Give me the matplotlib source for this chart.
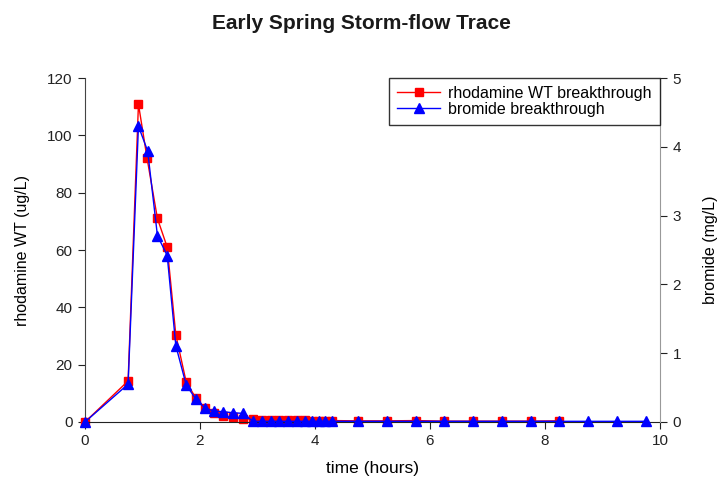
import matplotlib
matplotlib.use("Agg")
import matplotlib.pyplot as plt

plt.rcParams['font.family'] = ['Liberation Sans', 'DejaVu Sans']

# rhodamine WT (ug/L) vs time (hours)
rwt_time = [0.0, 0.75, 0.93, 1.08, 1.26, 1.43, 1.58, 1.76, 1.93, 2.09, 2.24, 2.40,
            2.57, 2.75, 2.92, 3.08, 3.23, 3.38, 3.53, 3.68, 3.83, 3.95, 4.07, 4.18,
            4.29, 4.75, 5.25, 5.75, 6.25, 6.75, 7.25, 7.75, 8.25]
rwt_conc = [0.0, 14.3, 110.9, 92.0, 71.0, 61.0, 30.4, 14.0, 8.3, 4.8, 3.1, 2.2,
            1.6, 1.2, 0.9, 0.8, 0.8, 0.7, 0.7, 0.6, 0.6, 0.5, 0.5, 0.5,
            0.5, 0.4, 0.4, 0.5, 0.3, 0.3, 0.3, 0.3, 0.4]

# bromide (mg/L) vs time (hours)
br_time = [0.0, 0.75, 0.93, 1.09, 1.26, 1.43, 1.58, 1.76, 1.93, 2.09, 2.24, 2.40,
           2.57, 2.75, 2.92, 3.08, 3.23, 3.38, 3.53, 3.68, 3.83, 3.95, 4.07, 4.18,
           4.29, 4.75, 5.25, 5.75, 6.25, 6.75, 7.25, 7.75, 8.25, 8.75, 9.25, 9.75]
br_conc = [0.0, 0.55, 4.30, 3.94, 2.71, 2.42, 1.11, 0.54, 0.33, 0.20, 0.16, 0.15,
           0.135, 0.125, 0.01, 0.01, 0.01, 0.01, 0.01, 0.01, 0.01, 0.01, 0.01, 0.01,
           0.01, 0.01, 0.01, 0.01, 0.01, 0.01, 0.01, 0.01, 0.01, 0.01, 0.01, 0.01]

fig = plt.figure(figsize=(7.22, 4.83), dpi=100)
ax = fig.add_axes([0.1177, 0.1263, 0.7963, 0.7122])
ax2 = ax.twinx()

l1, = ax.plot(rwt_time, rwt_conc, color='#ff0000', marker='s', markersize=6,
              linewidth=1.0, label='rhodamine WT breakthrough', clip_on=False)
l2, = ax2.plot(br_time, br_conc, color='#0000ff', marker='^', markersize=7,
               linewidth=1.0, label='bromide breakthrough', clip_on=False)

ax.set_xlim(0, 10)
ax.set_ylim(0, 120)
ax2.set_ylim(0, 5)
ax.set_xticks(range(0, 11, 2))
ax.set_yticks(range(0, 121, 20))
ax2.set_yticks(range(0, 6))

for a in (ax, ax2):
    a.spines['top'].set_visible(False)
ax.spines['right'].set_visible(False)
ax2.spines['left'].set_visible(False)
ax2.spines['bottom'].set_visible(False)
ax.spines['left'].set_color('#444444')
ax.spines['bottom'].set_color('#222222')
ax2.spines['right'].set_color('#999999')

ax.tick_params(direction='out', length=5, labelsize=11, pad=4, colors='#222222')
ax2.tick_params(direction='out', length=5, labelsize=11, pad=4, colors='#222222')

ax.set_xlabel('time (hours)', fontsize=12.5, labelpad=9)
ax.set_ylabel('rhodamine WT (ug/L)', fontsize=11.5, labelpad=12)
ax2.set_ylabel('bromide (mg/L)', fontsize=11.5, labelpad=16)
fig.text(0.5, 0.97, 'Early Spring Storm-flow Trace', fontsize=15, fontweight='bold',
         ha='center', va='top', color='#1a1a1a')

leg = ax2.legend(handles=[l1, l2], loc='upper right', bbox_to_anchor=(1.0, 1.0),
                 borderaxespad=0, fontsize=11.5, frameon=True, fancybox=False,
                 handlelength=2.7, handletextpad=0.5, borderpad=0.5,
                 labelspacing=0.05)
leg.get_frame().set_edgecolor('black')
leg.get_frame().set_linewidth(1.0)

fig.savefig('out.png', dpi=100)
